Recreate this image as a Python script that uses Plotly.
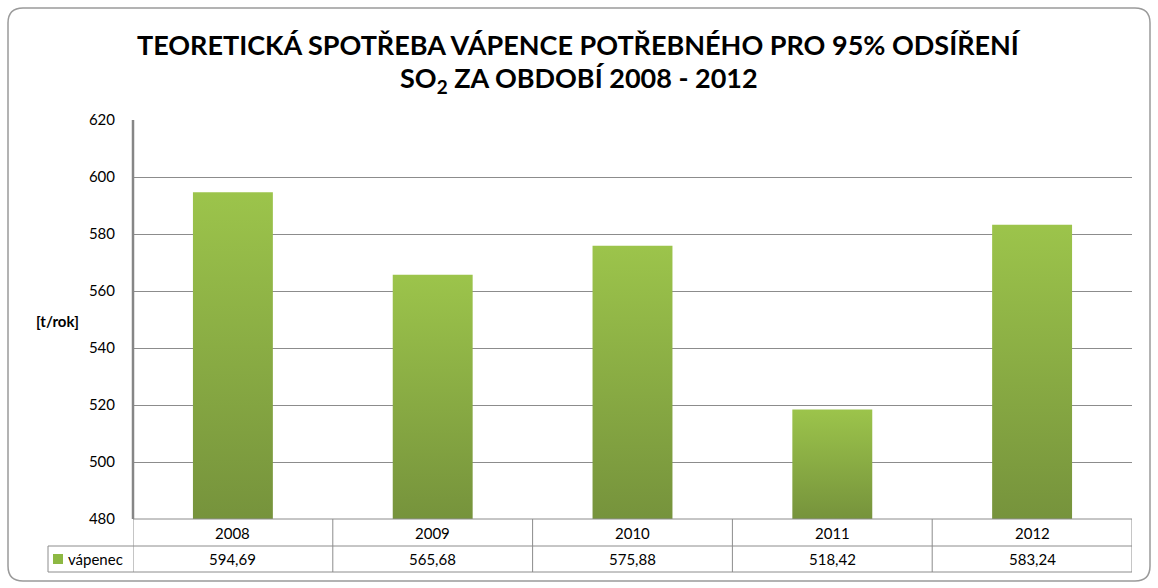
import plotly.graph_objects as go

years = ["2008", "2009", "2010", "2011", "2012"]
vapenec = [594.69, 565.68, 575.88, 518.42, 583.24]
value_labels = ["594,69", "565,68", "575,88", "518,42", "583,24"]
series_name = "vápenec"
y_ticks = [480, 500, 520, 540, 560, 580, 600, 620]

W, H = 1158, 588
L, R, T, B = 133, 1132, 120, 519  # plot area in px
PW, PH = R - L, B - T

def px(x):
    return (x - L) / PW

def py(y):
    return (B - y) / PH

BASE = 480
HALF = 0.2
DARK = "#76933C"
LIGHT = "#9CC44B"
GRID = "#8C8C8C"
FONT = "Lato"

fig = go.Figure()
for i, v in enumerate(vapenec):
    fig.add_trace(go.Scatter(
        x=[i - HALF, i - HALF, i + HALF, i + HALF, i - HALF],
        y=[BASE, v, v, BASE, BASE],
        mode="lines", line=dict(width=0), fill="toself",
        fillgradient=dict(type="vertical", start=BASE, stop=v,
                          colorscale=[[0, DARK], [1, LIGHT]]),
        hoverinfo="skip", showlegend=False, name=series_name,
    ))

shapes = []
# outer rounded border
x0, y0, x1, y1, r = px(8), py(8), px(1150), py(581), 15
rx, ry = r / PW, r / PH
path = (f"M {x0+rx},{y0} L {x1-rx},{y0} Q {x1},{y0} {x1},{y0-ry} "
        f"L {x1},{y1+ry} Q {x1},{y1} {x1-rx},{y1} L {x0+rx},{y1} "
        f"Q {x0},{y1} {x0},{y1+ry} L {x0},{y0-ry} Q {x0},{y0} {x0+rx},{y0} Z")
shapes.append(dict(type="path", xref="paper", yref="paper", path=path,
                   line=dict(color="#9A9A9A", width=1.5), layer="below"))

line = dict(color=GRID, width=1)
# table horizontal lines
for yy in (546, 572):
    shapes.append(dict(type="line", xref="paper", yref="paper",
                       x0=px(48), x1=px(R), y0=py(yy), y1=py(yy), line=line))
shapes.append(dict(type="line", xref="paper", yref="paper",
                   x0=0, x1=1, y0=0, y1=0, line=line))
# table vertical lines
shapes.append(dict(type="line", xref="paper", yref="paper",
                   x0=px(48), x1=px(48), y0=py(546), y1=py(572), line=line))
for k in range(len(years) + 1):
    shapes.append(dict(type="line", xref="x", yref="paper",
                       x0=k - 0.5, x1=k - 0.5, y0=0, y1=py(572), line=line))
# y axis line (thicker)
shapes.append(dict(type="line", xref="paper", yref="paper",
                   x0=0, x1=0, y0=0, y1=1, line=dict(color="#868686", width=2.5)))
# legend key
shapes.append(dict(type="rect", xref="paper", yref="paper",
                   x0=px(53), x1=px(63), y0=py(564), y1=py(554),
                   fillcolor="#8DB843", line=dict(width=0)))

TXT = dict(size=15, color="#000", family=FONT)
annotations = []
for i, (yr, lab) in enumerate(zip(years, value_labels)):
    annotations.append(dict(x=i, y=py(532.5), xref="x", yref="paper", text=yr,
                            showarrow=False, font=TXT,
                            xanchor="center", yanchor="middle"))
    annotations.append(dict(x=i, y=py(559), xref="x", yref="paper", text=lab,
                            showarrow=False, font=TXT,
                            xanchor="center", yanchor="middle"))
annotations.append(dict(x=px(66), y=py(559), xref="paper", yref="paper", text=series_name,
                        showarrow=False, font=TXT,
                        xanchor="left", yanchor="middle"))
annotations.append(dict(x=px(57), y=py(321), xref="paper", yref="paper", text="<b>[t/rok]</b>",
                        showarrow=False, font=TXT,
                        xanchor="center", yanchor="middle"))
annotations.append(dict(x=px(579), y=py(44), xref="paper", yref="paper",
                        text="<b>TEORETICKÁ SPOTŘEBA VÁPENCE POTŘEBNÉHO PRO 95% ODSÍŘENÍ</b>",
                        showarrow=False, font=dict(size=27, color="#000", family=FONT),
                        xanchor="center", yanchor="middle"))
annotations.append(dict(x=px(579), y=py(79), xref="paper", yref="paper",
                        text="<b>SO<sub>2</sub> ZA OBDOBÍ 2008 - 2012</b>",
                        showarrow=False, font=dict(size=27, color="#000", family=FONT),
                        xanchor="center", yanchor="middle"))

fig.update_layout(
    width=W, height=H,
    margin=dict(l=L, r=W - R, t=T, b=H - B),
    paper_bgcolor="white", plot_bgcolor="white",
    font=dict(family=FONT, size=15, color="#000"),
    showlegend=False,
    xaxis=dict(range=[-0.5, len(years) - 0.5], showticklabels=False, showgrid=False,
               zeroline=False, showline=False, ticks=""),
    yaxis=dict(range=[480, 620], tickvals=y_ticks, showgrid=True, gridcolor=GRID,
               gridwidth=1, zeroline=False, showline=False, ticks="",
               ticklabelstandoff=17, tickfont=dict(size=15, family=FONT)),
    shapes=shapes, annotations=annotations,
)

fig.write_html("out.html")
